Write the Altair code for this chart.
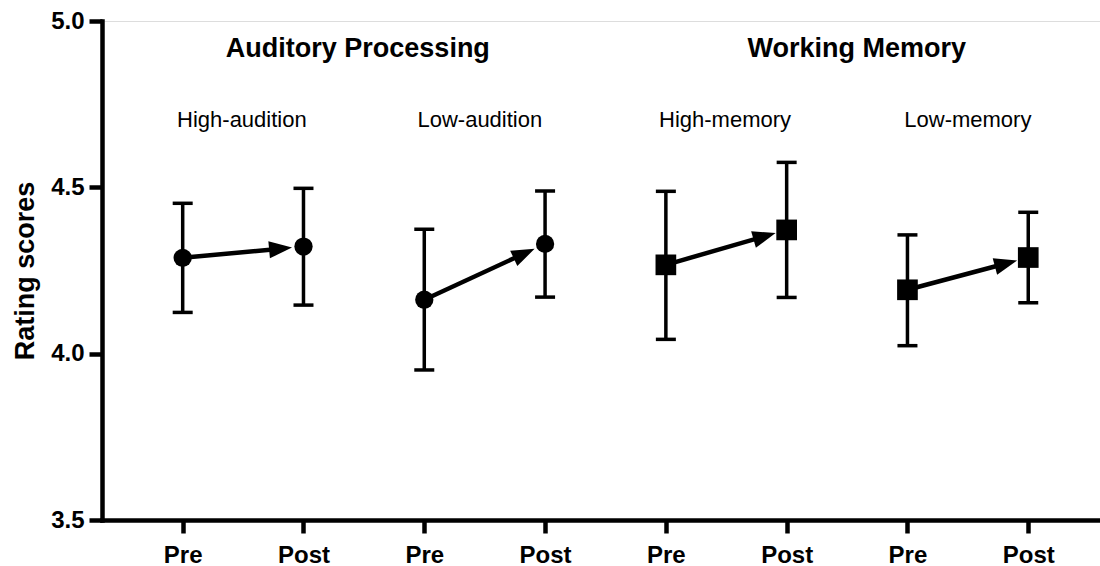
import math
import altair as alt
import pandas as pd

# ---- data ----
groups = ["High-audition", "High-audition", "Low-audition", "Low-audition",
          "High-memory", "High-memory", "Low-memory", "Low-memory"]
domains = ["Auditory"] * 4 + ["Memory"] * 4
phases = ["Pre", "Post", "Pre", "Post", "Pre", "Post", "Pre", "Post"]
xpos = [1, 2, 3, 4, 5, 6, 7, 8]
means = [4.288, 4.322, 4.162, 4.330, 4.267, 4.372, 4.192, 4.289]
upper = [4.452, 4.497, 4.374, 4.489, 4.488, 4.575, 4.357, 4.425]
lower = [4.124, 4.146, 3.951, 4.170, 4.043, 4.169, 4.024, 4.153]

header_text = ["Auditory Processing", "Working Memory"]
header_x = [2.45, 6.58]
sub_text = ["High-audition", "Low-audition", "High-memory", "Low-memory"]
sub_x = [1.49, 3.46, 5.49, 7.50]

# ---- layout ----
W, H = 998, 499
XDOM = [0.332, 8.594]
YDOM = [3.5, 5.0]
PX_X = W / (XDOM[1] - XDOM[0])
PX_Y = H / (YDOM[1] - YDOM[0])
FONT = "Liberation Sans"

df = pd.DataFrame({"group": groups, "domain": domains, "phase": phases,
                   "x": xpos, "mean": means, "upper": upper, "lower": lower})

caps = pd.concat([
    pd.DataFrame({"x": xpos, "v": upper}),
    pd.DataFrame({"x": xpos, "v": lower}),
])

# arrows: from pre point to post point, head stops at marker edge
rows = []
GAP, HEAD_R = 11.5, 11.5
for i in range(0, 8, 2):
    x0, m0, x1, m1 = xpos[i], means[i], xpos[i + 1], means[i + 1]
    dx = (x1 - x0) * PX_X
    dy = -(m1 - m0) * PX_Y
    L = math.hypot(dx, dy)
    ux, uy = dx / L, dy / L
    back = GAP + HEAD_R
    hx = x1 - back * ux / PX_X
    hv = m1 + back * uy / PX_Y
    ang = math.degrees(math.atan2(uy, ux)) % 360
    rows.append({"x0": x0, "v0": m0, "hx": hx, "hv": hv, "angle": ang})
arrows = pd.DataFrame(rows)

headers = pd.DataFrame({"t": header_text, "x": header_x})
subs = pd.DataFrame({"t": sub_text, "x": sub_x})

xscale = alt.Scale(domain=XDOM, nice=False, zero=False)
yscale = alt.Scale(domain=YDOM, nice=False, zero=False)

xaxis = alt.Axis(values=xpos, labelExpr="datum.value % 2 == 1 ? 'Pre' : 'Post'",
                 title=None, grid=False, labelFont=FONT, labelFontSize=24,
                 labelFontWeight="bold", labelColor="black", tickSize=13,
                 tickWidth=4.5, tickColor="black", domainWidth=4.5,
                 domainColor="black", labelPadding=10, domainCap="square")
yaxis = alt.Axis(values=[3.5, 4.0, 4.5, 5.0], format=".1f", title="Rating scores",
                 grid=False, labelFont=FONT, labelFontSize=24, labelFontWeight="bold",
                 labelColor="black", tickSize=13, tickWidth=4.5, tickColor="black",
                 domainWidth=4.5, domainColor="black", labelPadding=5,
                 titleFont=FONT, titleFontSize=27, titleFontWeight="bold",
                 titleColor="black", titlePadding=11, domainCap="square")

base = alt.Chart(df)

err = base.mark_rule(color="black", strokeWidth=3.5).encode(
    x=alt.X("x:Q", scale=xscale, axis=xaxis),
    y=alt.Y("lower:Q", scale=yscale, axis=yaxis),
    y2="upper:Q",
)

cap = alt.Chart(caps).mark_tick(color="black", orient="horizontal", size=20,
                                thickness=3.5, opacity=1).encode(
    x=alt.X("x:Q", scale=xscale),
    y=alt.Y("v:Q", scale=yscale),
)

shaft = alt.Chart(arrows).mark_rule(color="black", strokeWidth=4.5).encode(
    x=alt.X("x0:Q", scale=xscale),
    y=alt.Y("v0:Q", scale=yscale),
    x2="hx:Q",
    y2="hv:Q",
)

head = alt.Chart(arrows).mark_point(
    shape="M1,0L-1,-0.74L-1,0.74Z", filled=True, color="black", opacity=1,
    size=529, strokeWidth=0,
).encode(
    x=alt.X("hx:Q", scale=xscale),
    y=alt.Y("hv:Q", scale=yscale),
    angle=alt.Angle("angle:Q", scale=None),
)

circles = base.transform_filter(alt.datum.domain == "Auditory").mark_point(
    shape="circle", filled=True, color="black", opacity=1, size=335, strokeWidth=0
).encode(x=alt.X("x:Q", scale=xscale), y=alt.Y("mean:Q", scale=yscale))

squares = base.transform_filter(alt.datum.domain == "Memory").mark_point(
    shape="square", filled=True, color="black", opacity=1, size=428, strokeWidth=0
).encode(x=alt.X("x:Q", scale=xscale), y=alt.Y("mean:Q", scale=yscale))

htext = alt.Chart(headers).mark_text(
    font=FONT, fontSize=27, fontWeight="bold", color="black",
    align="center", baseline="alphabetic",
).encode(x=alt.X("x:Q", scale=xscale), y=alt.value(57 - 21), text="t:N")

stext = alt.Chart(subs).mark_text(
    font=FONT, fontSize=22, fontWeight="normal", color="black",
    align="center", baseline="alphabetic",
).encode(x=alt.X("x:Q", scale=xscale), y=alt.value(127.3 - 21), text="t:N")

chart = alt.layer(err, cap, shaft, head, circles, squares, htext, stext).properties(
    width=W, height=H,
    autosize=alt.AutoSizeParams(type="none"),
    padding={"left": 102, "top": 21, "right": 0, "bottom": 46},
).configure_view(stroke=None).configure(background="white")

chart.save("out.html", embed_options={"renderer": "svg", "actions": False})
